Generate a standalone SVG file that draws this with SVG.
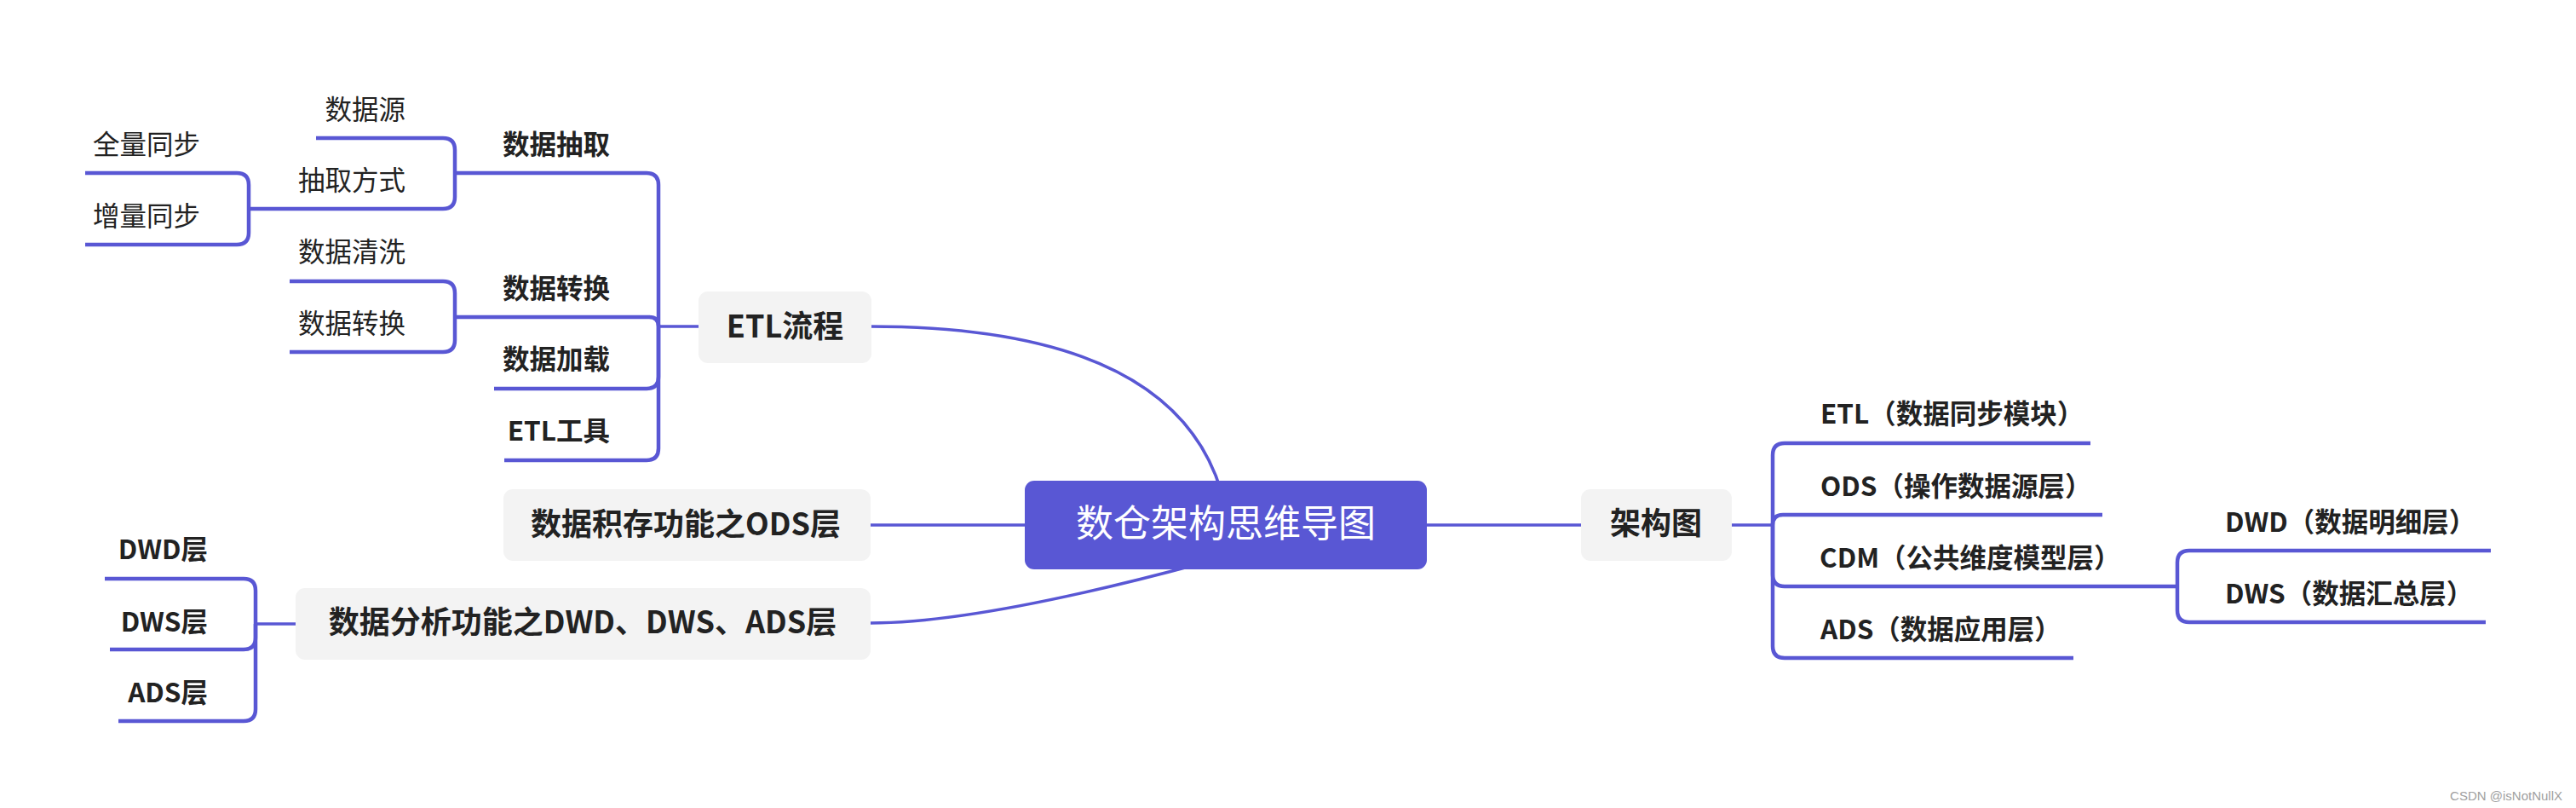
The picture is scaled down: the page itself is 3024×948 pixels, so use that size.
<svg xmlns="http://www.w3.org/2000/svg" width="3024" height="948" viewBox="0 0 3024 948">
<style>
.t{font-family:"Noto Sans CJK SC","Noto Sans",sans-serif;fill:#222;font-size:31.5px}
.b{font-weight:700}
.e{text-anchor:end}
.m{text-anchor:middle}
.h{font-size:36px;font-weight:700}
.ln{fill:none;stroke:#5957d4;stroke-width:4.5;stroke-linecap:butt}
.cn{fill:none;stroke:#5957d4;stroke-width:3.5}
.box{fill:#f3f3f3}
</style>
<rect width="3024" height="948" fill="#fff"/>
<g id="connectors">
<path class="cn" d="M1021,383 Q1445,383 1445,660"/>
<path class="cn" d="M1022,731 Q1150,731 1410,661"/>
<path class="cn" d="M1022,616 H1203"/>
<path class="cn" d="M1675,616 H1856"/>
<path class="cn" d="M820,383 H773"/>
<path class="cn" d="M347,732 H300"/>
<path class="cn" d="M2033,616 H2081"/>
<path class="ln" d="M773,383 V217 Q773,203 759,203 H534"/>
<path class="ln" d="M773,383 Q773,372 762,372 H534"/>
<path class="ln" d="M773,383 V442 Q773,456 759,456 H580"/>
<path class="ln" d="M773,383 V526 Q773,540 759,540 H592"/>
<path class="ln" d="M534,203 V176 Q534,162 520,162 H371"/>
<path class="ln" d="M534,203 V231 Q534,245 520,245 H292"/>
<path class="ln" d="M292,245 V217 Q292,203 278,203 H100"/>
<path class="ln" d="M292,245 V273 Q292,287 278,287 H100"/>
<path class="ln" d="M534,372 V344 Q534,330 520,330 H340"/>
<path class="ln" d="M534,372 V399 Q534,413 520,413 H340"/>
<path class="ln" d="M300,732 V693 Q300,679 286,679 H123"/>
<path class="ln" d="M300,732 V748 Q300,762 286,762 H129"/>
<path class="ln" d="M300,732 V832 Q300,846 286,846 H139"/>
<path class="ln" d="M2081,616 V534 Q2081,520 2095,520 H2454"/>
<path class="ln" d="M2081,616 Q2081,604 2093,604 H2468"/>
<path class="ln" d="M2081,616 V674 Q2081,688 2095,688 H2509 H2556"/>
<path class="ln" d="M2081,616 V758 Q2081,772 2095,772 H2434"/>
<path class="ln" d="M2556,688 V660 Q2556,646 2570,646 H2924"/>
<path class="ln" d="M2556,688 V716 Q2556,730 2570,730 H2918"/>
</g>
<g id="root">
<rect x="1203" y="564" width="472" height="104" rx="11" fill="#5957d4"/>
<text class="t m" x="1439" y="630" style="font-size:44px;fill:#fff">数仓架构思维导图</text>
</g>
<g id="etl">
<rect class="box" x="820" y="342" width="203" height="84" rx="11"/>
<text class="t m h" x="921.5" y="396">ETL流程</text>
</g>
<g id="ods">
<rect class="box" x="591" y="574" width="431" height="84" rx="11"/>
<text class="t m h" x="805" y="628">数据积存功能之ODS层</text>
</g>
<g id="analysis">
<rect class="box" x="347" y="690" width="675" height="84" rx="11"/>
<text class="t m h" x="684" y="743">数据分析功能之DWD、DWS、ADS层</text>
</g>
<g id="arch">
<rect class="box" x="1856" y="574" width="177" height="84" rx="11"/>
<text class="t m h" x="1944" y="627">架构图</text>
</g>
<g id="extract"><text class="t b e" x="716" y="181">数据抽取</text></g>
<g id="source"><text class="t e" x="476" y="139.5">数据源</text></g>
<g id="method"><text class="t e" x="476" y="223">抽取方式</text></g>
<g id="full"><text class="t e" x="235" y="181">全量同步</text></g>
<g id="incr"><text class="t e" x="235" y="264.5">增量同步</text></g>
<g id="transform"><text class="t b e" x="716" y="349.5">数据转换</text></g>
<g id="clean"><text class="t e" x="476" y="307">数据清洗</text></g>
<g id="convert"><text class="t e" x="476" y="391">数据转换</text></g>
<g id="load"><text class="t b e" x="716" y="433">数据加载</text></g>
<g id="tool"><text class="t b e" x="716" y="517">ETL工具</text></g>
<g id="dwdl"><text class="t b e" x="244" y="655.5">DWD层</text></g>
<g id="dwsl"><text class="t b e" x="244" y="740.5">DWS层</text></g>
<g id="adsl"><text class="t b e" x="244" y="823.5">ADS层</text></g>
<g id="r-etl"><text class="t b" x="2137" y="497">ETL（数据同步模块）</text></g>
<g id="r-ods"><text class="t b" x="2137" y="582">ODS（操作数据源层）</text></g>
<g id="r-cdm"><text class="t b" x="2136" y="666">CDM（公共维度模型层）</text></g>
<g id="r-ads"><text class="t b" x="2137" y="750">ADS（数据应用层）</text></g>
<g id="r-dwd"><text class="t b" x="2612" y="624">DWD（数据明细层）</text></g>
<g id="r-dws"><text class="t b" x="2612" y="708">DWS（数据汇总层）</text></g>
<text x="3008" y="939" style="font-family:'Liberation Sans',Arial,sans-serif;font-size:15px;fill:#a0a0a0;text-anchor:end">CSDN @isNotNullX</text>
</svg>
